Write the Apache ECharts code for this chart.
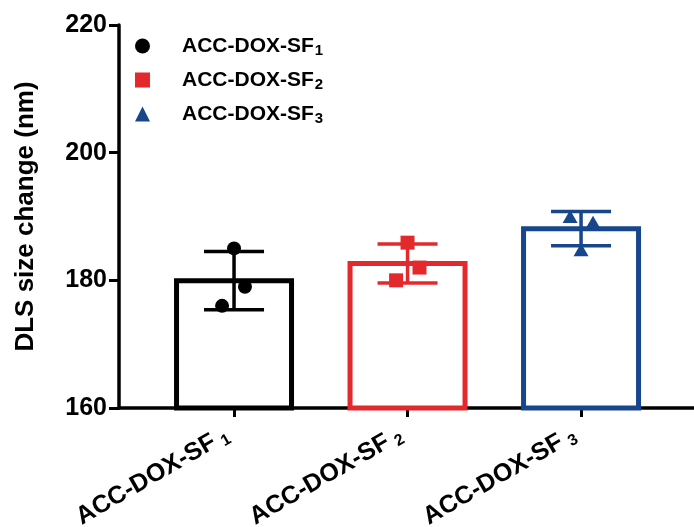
<!DOCTYPE html>
<html>
<head>
<meta charset="utf-8">
<script src="https://cdn.jsdelivr.net/npm/echarts@6/dist/echarts.min.js"></script>
<style>
  html, body { margin: 0; padding: 0; background: #fff; }
  #chart { width: 694px; height: 527px; }
</style>
</head>
<body>
<div id="chart"></div>
<script>
// data
const groups = ['ACC-DOX-SF1', 'ACC-DOX-SF2', 'ACC-DOX-SF3']
const subs = ['1', '2', '3']
const groupX = [1, 2, 3]
const means = [179.95, 182.65, 188.1]
const sds = [4.55, 3.05, 2.7]
const pointsSF1 = [185.0, 179.0, 176.0]
const pointsSF2 = [185.9, 182.0, 180.0]
const pointsSF3 = [190.0, 189.1, 184.8]
const jitterSF1 = [0, 0.063, -0.069]
const jitterSF2 = [0, 0.069, -0.066]
const jitterSF3 = [-0.063, 0.069, 0]
const yTicks = [160, 180, 200, 220]

const colors = ['#000000', '#E4292D', '#17468C']
const symbols = ['circle', 'rect', 'triangle']
const font = 'Liberation Sans, Arial, sans-serif'

function label(i) {
    return 'ACC-DOX-SF{sub|' + subs[i] + '}'
}

const allPoints = [pointsSF1, pointsSF2, pointsSF3]
const allJitter = [jitterSF1, jitterSF2, jitterSF3]

let chart = echarts.init(document.getElementById('chart'))

let series = []

// hollow bars
series.push({
    type: 'custom',
    z: 1,
    data: groupX.map((x, i) => [x, means[i], i]),
    renderItem: (params, api) => {
        let x = api.value(0), m = api.value(1)
        let top = api.coord([x, m])
        let base = api.coord([x, 160])
        let w = 115
        return {
            type: 'rect',
            shape: { x: top[0] - w / 2, y: top[1], width: w, height: base[1] - top[1] },
            style: { fill: '#fff', stroke: colors[api.value(2)], lineWidth: 5, lineJoin: 'miter' }
        }
    }
})

// mean +- SD
series.push({
    type: 'custom',
    z: 2,
    data: groupX.map((x, i) => [x, means[i], sds[i], i]),
    renderItem: (params, api) => {
        let x = api.value(0), m = api.value(1), s = api.value(2)
        let c = colors[api.value(3)]
        let top = api.coord([x, m + s])
        let bot = api.coord([x, m - s])
        let half = 30
        let style = { stroke: c, lineWidth: 3.5 }
        return {
            type: 'group',
            children: [
                { type: 'line', shape: { x1: top[0], y1: top[1], x2: bot[0], y2: bot[1] }, style },
                { type: 'line', shape: { x1: top[0] - half, y1: top[1], x2: top[0] + half, y2: top[1] }, style },
                { type: 'line', shape: { x1: bot[0] - half, y1: bot[1], x2: bot[0] + half, y2: bot[1] }, style }
            ]
        }
    }
})

groups.forEach((g, i) => {
    series.push({
        name: g,
        type: 'scatter',
        z: 3,
        symbol: symbols[i],
        symbolSize: i == 2 ? [15, 13] : 14,
        itemStyle: { color: colors[i], opacity: 1 },
        data: allPoints[i].map((v, k) => [groupX[i] + allJitter[i][k], v])
    })
})

option = {
    animation: false,
    grid: { left: 119, right: 0, top: 25, bottom: 119, containLabel: false, outerBoundsMode: 'none' },
    legend: {
        orient: 'vertical',
        left: 130,
        top: 29,
        itemWidth: 15,
        itemHeight: 15,
        itemGap: 10,
        data: groups,
        formatter: name => '{gap|}' + label(groups.indexOf(name)),
        textStyle: {
            fontFamily: font, fontWeight: 'bold', fontSize: 21, color: '#000', lineHeight: 24,
            rich: {
                gap: { width: 27 },
                sub: { fontFamily: font, fontWeight: 'bold', fontSize: 15, color: '#000', verticalAlign: 'bottom', lineHeight: 24, padding: [8, 0, 0, 1] }
            }
        }
    },
    xAxis: {
        type: 'value',
        min: 0.337,
        max: 3.651,
        splitLine: { show: false },
        axisLine: { show: true, lineStyle: { color: '#000', width: 3.5 } },
        axisTick: { show: true, customValues: groupX, length: 9, lineStyle: { color: '#000', width: 3 } },
        axisLabel: {
            customValues: groupX,
            rotate: 30,
            margin: 21,
            formatter: v => label(groupX.indexOf(v)),
            fontFamily: font, fontWeight: 'bold', fontSize: 25, color: '#000', lineHeight: 28,
            rich: {
                sub: { fontFamily: font, fontWeight: 'bold', fontSize: 16, color: '#000', verticalAlign: 'bottom', lineHeight: 28, padding: [9, 8, 0, 6] }
            }
        }
    },
    yAxis: {
        type: 'value',
        min: 160,
        max: 220,
        interval: 20,
        name: 'DLS size change (nm)',
        nameLocation: 'middle',
        nameGap: 80,
        nameRotate: 90,
        nameTextStyle: { fontFamily: font, fontWeight: 'bold', fontSize: 26, color: '#000' },
        splitLine: { show: false },
        axisLine: { show: true, lineStyle: { color: '#000', width: 3.5 } },
        axisTick: { show: true, length: 10, lineStyle: { color: '#000', width: 3 } },
        axisLabel: {
            margin: 12,
            formatter: v => yTicks.includes(v) ? String(v) : '',
            fontFamily: font, fontWeight: 'bold', fontSize: 25, color: '#000'
        }
    },
    series: series
}
chart.setOption(option)
</script>
</body>
</html>
